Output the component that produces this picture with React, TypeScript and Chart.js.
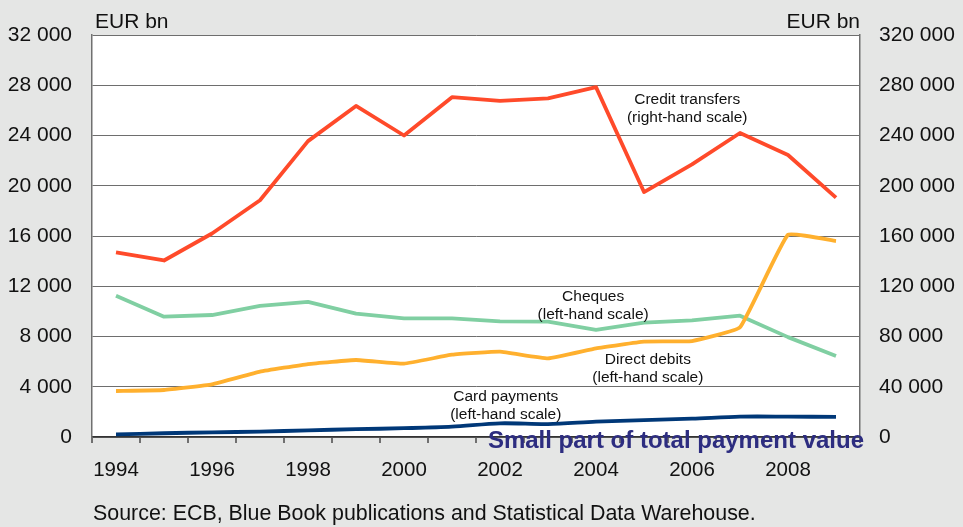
import React, { useEffect, useRef } from "react";
import { Chart, registerables } from "chart.js";

Chart.register(...registerables);

const years = ["1994", "1995", "1996", "1997", "1998", "1999", "2000", "2001", "2002", "2003", "2004", "2005", "2006", "2007", "2008", "2009"];
const creditTransfers = [147000, 140500, 162000, 188500, 235500, 263500, 240000, 270500, 267500, 269500, 278500, 195000, 217000, 242000, 224500, 190500];
const cheques = [11250, 9580, 9710, 10430, 10750, 9820, 9450, 9450, 9200, 9180, 8520, 9100, 9290, 9660, 7950, 6450];
const directDebits = [3660, 3740, 4190, 5200, 5810, 6130, 5840, 6550, 6790, 6260, 7060, 7590, 7640, 8730, 16100, 15600];
const cardPayments = [210, 300, 370, 430, 530, 620, 700, 820, 1090, 1030, 1220, 1350, 1460, 1620, 1620, 1600];

const leftMax = 32000;
const leftStep = 4000;
const rightMax = 320000;
const rightStep = 40000;

const seriesNames = ["Credit transfers", "Cheques", "Direct debits", "Card payments"];
const scaleNotes = ["(right-hand scale)", "(left-hand scale)", "(left-hand scale)", "(left-hand scale)"];
// label anchor: [category index, left-axis value]
const noteAnchors = [
  [11.9, 26150],
  [9.94, 10450],
  [11.08, 5450],
  [8.12, 2500],
];

const unitLabel = "EUR bn";
const headline = "Small part of total payment value";
const sourceText = "Source: ECB, Blue Book publications and Statistical Data Warehouse.";

const FONT = "'Liberation Sans', Arial, Helvetica, sans-serif";
const fmt = (v: number) => (v === 0 ? "0" : String(v).replace(/\B(?=(\d{3})+(?!\d))/g, " "));

const textPlugin = {
  id: "textPlugin",
  afterDraw(chart: any) {
    const ctx = chart.ctx;
    const area = chart.chartArea;
    const xs = chart.scales.x;
    const ys = chart.scales.y;
    ctx.save();
    ctx.fillStyle = "#111";
    ctx.textBaseline = "middle";
    ctx.font = `15.5px ${FONT}`;
    ctx.textAlign = "center";
    noteAnchors.forEach((a, i) => {
      const x = xs.getPixelForValue(a[0]);
      const y = ys.getPixelForValue(a[1]);
      ctx.fillText(seriesNames[i], x, y - 9);
      ctx.fillText(scaleNotes[i], x, y + 9);
    });
    ctx.font = `21px ${FONT}`;
    ctx.textAlign = "left";
    ctx.fillText(unitLabel, area.left + 3, 22);
    ctx.textAlign = "right";
    ctx.fillText(unitLabel, area.right, 22);
    ctx.font = `21.4px ${FONT}`;
    ctx.textAlign = "left";
    ctx.fillText(sourceText, area.left + 1, 514);
    ctx.font = `bold 24px ${FONT}`;
    ctx.fillStyle = "#2d2d80";
    ctx.textAlign = "right";
    ctx.fillText(headline, area.right + 4, 441);
    ctx.restore();
  },
};

export default function App() {
  const ref = useRef<HTMLCanvasElement>(null);
  useEffect(() => {
    const canvas = ref.current;
    if (!canvas) return;
    const line = (label: string, data: number[], color: string, axis: string, order: number, tension = 0) => ({
      label,
      data,
      borderColor: color,
      backgroundColor: color,
      borderWidth: 3.8,
      pointRadius: 0,
      tension,
      yAxisID: axis,
      order,
      borderJoinStyle: "round" as const,
      borderCapStyle: "butt" as const,
    });
    const chart = new Chart(canvas, {
      type: "line",
      data: {
        labels: years,
        datasets: [
          line("Credit transfers", creditTransfers, "#ff4a2a", "y2", 0),
          line("Direct debits", directDebits, "#ffb02e", "y", 1, 0.1),
          line("Cheques", cheques, "#80cfa2", "y", 2),
          line("Card payments", cardPayments, "#003878", "y", 3, 0.3),
        ],
      },
      options: {
        responsive: false,
        animation: false,
        layout: { padding: { top: 35, left: 0, right: 0, bottom: 0 } },
        plugins: { legend: { display: false }, tooltip: { enabled: false }, title: { display: false } },
        scales: {
          x: {
            type: "category",
            offset: true,
            grid: { offset: true, drawOnChartArea: false, drawTicks: true, tickLength: 6, color: "#707070", lineWidth: 2 },
            border: { display: true, color: "#333", width: 1.5 },
            ticks: {
              autoSkip: false,
              maxRotation: 0,
              padding: 15,
              color: "#111",
              font: { family: FONT, size: 20.5 },
              callback: (_v: any, i: number) => (i % 2 === 0 ? years[i] : ""),
            },
            afterFit: (s: any) => {
              s.height = 90;
            },
          },
          y: {
            position: "left",
            min: 0,
            max: leftMax,
            grid: { color: "#6e6e6e", lineWidth: 1, drawTicks: false },
            border: { display: true, color: "#707070", width: 1.5 },
            ticks: {
              stepSize: leftStep,
              padding: 20,
              color: "#111",
              font: { family: FONT, size: 21 },
              callback: (v: any) => fmt(Number(v)),
            },
            afterFit: (s: any) => {
              s.width = 92;
            },
          },
          y2: {
            position: "right",
            min: 0,
            max: rightMax,
            grid: { display: false, drawTicks: false },
            border: { display: true, color: "#707070", width: 1.5 },
            ticks: {
              stepSize: rightStep,
              padding: 19,
              color: "#111",
              font: { family: FONT, size: 21 },
              callback: (v: any) => fmt(Number(v)),
            },
            afterFit: (s: any) => {
              s.width = 103;
            },
          },
        },
      },
      plugins: [textPlugin],
    });
    return () => chart.destroy();
  }, []);
  return (
    <div style={{ position: "fixed", left: 0, top: 0, width: 963, height: 527, background: "#e5e6e5" }}>
      <div style={{ position: "absolute", left: 92, top: 35, width: 768, height: 402, background: "#fff" }} />
      <canvas ref={ref} width={963} height={527} style={{ position: "absolute", left: 0, top: 0, display: "block" }} />
    </div>
  );
}
